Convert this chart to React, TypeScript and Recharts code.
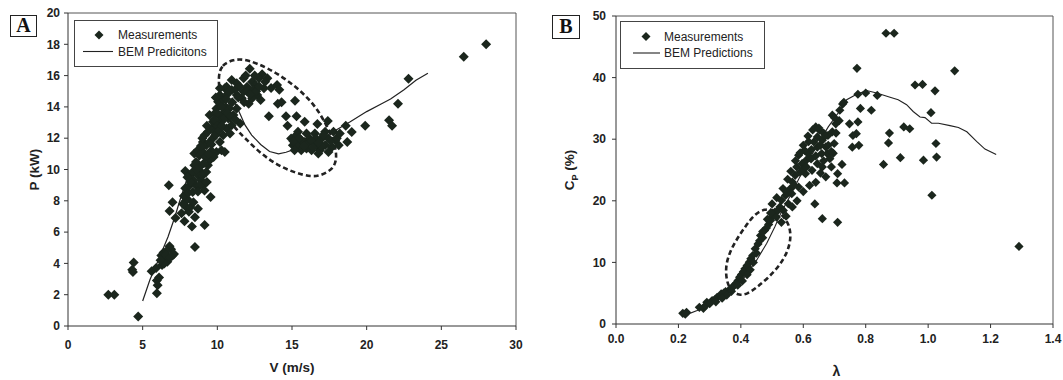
import React from "react";
import {
  ComposedChart,
  Scatter,
  Line,
  XAxis,
  YAxis,
  ReferenceLine,
  Legend,
} from "recharts";

// ---------------- DATA : panel A (power vs wind speed) ----------------
const ticksAX = [0, 5, 10, 15, 20, 25, 30];
const ticksAY = [0, 2, 4, 6, 8, 10, 12, 14, 16, 18, 20];

const measA: [number, number][] = [
  [2.7, 2.0], [3.1, 2.0], [4.4, 4.05], [4.3, 3.6], [4.35, 3.45], [4.7, 0.6],
  [5.6, 3.5], [5.9, 3.7], [5.95, 2.9], [6.1, 3.1], [5.95, 2.1], [6.0, 2.6],
  [6.25, 4.5], [6.4, 4.7], [6.65, 4.1], [6.9, 4.9], [7.0, 4.5], [6.5, 4.3],
  [6.3, 3.9], [6.8, 5.1], [7.1, 4.6], [6.6, 4.8], [6.45, 4.0], [6.2, 4.2],
  [6.55, 4.55], [6.85, 4.4],
  [6.75, 9.0], [6.8, 7.35], [7.0, 7.9], [7.2, 6.9], [7.8, 6.7], [7.85, 8.8],
  [7.85, 9.9], [7.9, 8.0], [8.0, 8.1], [7.9, 7.6], [8.1, 7.3], [8.3, 6.35],
  [8.5, 5.05], [8.5, 6.95], [8.7, 7.5], [9.15, 6.45], [9.55, 8.25], [7.6, 7.2],
  [7.7, 7.8], [8.2, 7.6], [8.4, 7.9], [7.75, 8.3], [8.05, 8.5],
  [8.12, 8.98], [8.35, 8.56], [8.57, 8.98], [8.92, 9.84], [8.46, 11.02],
  [8.69, 11.23], [9.03, 11.76], [8.8, 10.16], [8.12, 9.63], [8.35, 9.84],
  [8.46, 10.27], [8.57, 10.48], [8.8, 10.9], [8.69, 9.63], [8.92, 9.3],
  [9.03, 8.98], [9.14, 8.66], [8.8, 8.98], [9.26, 9.84], [9.37, 10.27],
  [9.03, 11.12], [9.26, 11.55], [9.48, 11.76], [9.14, 12.19], [9.37, 12.41],
  [9.6, 12.62], [9.71, 13.05], [9.48, 13.48], [9.82, 13.58], [9.94, 13.9],
  [10.05, 14.33], [10.17, 14.76], [9.94, 11.12], [10.28, 11.23], [10.5, 11.12],
  [10.17, 11.76], [10.39, 12.19], [10.62, 12.62], [10.85, 12.3], [10.96, 12.83],
  [10.73, 13.26], [10.39, 13.58], [10.28, 13.05], [11.08, 13.48], [11.3, 13.9],
  [11.53, 12.94], [10.39, 14.44], [10.62, 14.76], [10.5, 15.19], [10.96, 15.08],
  [11.3, 14.76], [11.64, 14.55], [11.76, 14.97], [11.99, 15.29], [12.33, 15.61],
  [12.17, 16.43], [12.55, 15.4], [12.67, 14.76], [12.9, 14.44], [12.33, 14.55],
  [13.12, 15.19], [13.0, 16.09], [13.35, 15.83], [12.78, 15.83], [11.76, 15.83],
  [11.3, 15.51], [10.96, 15.72], [10.62, 15.29], [10.17, 15.19], [9.7, 12.0],
  [9.85, 12.4], [9.6, 11.2], [9.75, 10.8], [9.5, 10.6], [10.0, 12.8], [10.2, 13.4],
  [10.55, 14.0], [10.8, 13.9], [11.0, 14.3], [11.2, 15.1], [11.5, 15.3],
  [12.0, 15.0], [12.4, 15.1], [12.1, 14.2], [12.6, 15.0], [11.9, 16.0],
  [9.2, 10.8], [9.4, 11.0], [9.6, 11.6], [9.9, 12.2], [10.1, 12.5], [10.3, 12.8],
  [10.5, 13.3], [10.7, 13.6], [10.9, 13.4], [11.2, 13.2], [10.0, 13.6],
  [10.3, 14.0], [10.6, 14.5], [10.8, 15.0], [11.4, 14.6], [11.8, 14.3],
  [12.2, 14.8], [12.5, 16.0], [12.8, 15.3], [13.2, 15.6], [9.9, 14.6],
  [9.8, 13.2], [9.3, 12.8], [9.0, 12.0], [8.9, 11.5], [8.6, 10.0], [8.4, 9.3],
  [8.7, 8.6], [9.0, 9.6], [9.3, 9.2], [9.1, 10.4], [8.2, 9.2], [8.0, 9.5],
  [13.6, 15.2], [14.0, 15.4], [14.15, 15.1], [14.3, 14.3], [14.05, 14.2],
  [13.45, 13.4], [14.6, 13.4], [14.7, 12.8], [15.2, 14.4], [15.3, 13.4],
  [15.85, 13.05], [17.4, 13.1], [16.7, 12.9],
  [14.94, 11.98], [15.06, 11.55], [15.28, 12.19], [15.4, 11.55], [15.62, 11.23],
  [15.85, 11.76], [15.97, 11.34], [16.19, 11.98], [16.31, 11.23], [16.65, 11.55],
  [16.88, 11.23], [16.99, 11.98], [17.22, 11.55], [17.44, 11.98], [17.67, 11.44],
  [17.9, 11.87], [18.13, 11.55], [16.53, 12.3], [15.97, 12.3], [15.4, 12.41],
  [17.22, 12.41], [17.78, 12.41], [15.17, 11.23], [16.76, 11.02], [17.44, 11.12],
  [16.1, 11.7], [16.6, 12.0], [17.0, 11.5], [15.6, 11.9], [15.1, 11.8],
  [15.5, 12.0], [15.8, 11.5], [16.3, 11.8], [16.8, 11.7], [17.1, 12.2],
  [17.6, 11.8], [18.0, 12.0], [16.4, 11.4],
  [18.6, 12.8], [19.0, 12.4], [18.7, 11.75], [18.2, 12.3], [19.9, 12.8],
  [21.5, 13.15], [21.7, 12.8], [22.1, 14.2], [22.8, 15.8], [26.5, 17.2], [28.0, 18.0],
];

const bemA: [number, number][] = [
  [5.0, 1.6], [5.48, 2.94], [6.15, 4.43], [6.7, 5.7], [7.16, 6.98], [7.5, 8.05],
  [7.95, 9.33], [8.5, 10.3], [9.0, 11.1], [9.5, 12.0], [10.0, 13.0], [10.5, 13.9],
  [10.9, 14.4], [11.15, 14.3], [11.45, 13.7], [11.85, 12.85], [12.3, 12.2],
  [12.9, 11.6], [13.5, 11.15], [14.1, 11.0], [14.6, 11.1], [15.5, 11.4],
  [16.5, 11.7], [17.3, 12.0], [17.9, 12.5], [18.9, 13.05], [20.0, 13.7],
  [21.0, 14.2], [21.6, 14.5], [22.5, 15.1], [23.3, 15.7], [24.1, 16.15],
];

const ellipseA: [number, number][] = [
  [10.05, 15.94], [10.28, 16.68], [11.08, 17.03], [11.76, 17.05], [12.67, 16.79],
  [14.03, 16.15], [15.4, 15.19], [16.53, 14.12], [17.33, 12.83], [17.9, 11.55],
  [18.0, 10.7], [17.78, 10.05], [16.99, 9.63], [16.3, 9.52], [15.17, 9.8],
  [14.03, 10.27], [12.9, 11.02], [11.76, 12.09], [11.08, 12.73], [10.5, 13.69],
  [10.17, 14.76],
];

// ---------------- DATA : panel B (Cp vs tip speed ratio) ----------------
const ticksBX = [0, 0.2, 0.4, 0.6, 0.8, 1.0, 1.2, 1.4];
const ticksBY = [0, 10, 20, 30, 40, 50];

const measB: [number, number][] = [
  [0.865, 47.2], [0.891, 47.2], [0.772, 41.5], [1.085, 41.1], [0.958, 38.8],
  [0.982, 38.9], [1.022, 37.85], [0.775, 37.3], [0.8, 37.5], [0.837, 37.1],
  [0.726, 35.7], [0.783, 35.0], [0.818, 34.7], [1.009, 34.3], [0.693, 33.9],
  [0.748, 32.5], [0.775, 32.8], [0.77, 30.9], [0.759, 30.6], [0.757, 28.7],
  [0.778, 29.0], [0.876, 31.0], [0.873, 29.4], [0.922, 32.0], [0.941, 31.7],
  [1.025, 29.3], [0.911, 27.0], [0.985, 26.6], [1.027, 27.1], [0.857, 25.9],
  [1.012, 20.9], [1.291, 12.6], [0.724, 25.9], [0.71, 24.4], [0.708, 22.9],
  [0.732, 22.9], [0.637, 19.5], [0.661, 17.1], [0.71, 16.5],
  [0.214, 1.74], [0.226, 1.9], [0.267, 2.7], [0.28, 2.55], [0.291, 3.52],
  [0.308, 3.8], [0.324, 4.34], [0.337, 4.88], [0.351, 5.26], [0.365, 5.64],
  [0.378, 6.24], [0.391, 7.05], [0.402, 8.03], [0.413, 8.95], [0.427, 10.03],
  [0.438, 11.12], [0.446, 12.2], [0.463, 14.37], [0.476, 15.18], [0.489, 16.16],
  [0.5, 17.35], [0.509, 18.17], [0.525, 18.98], [0.53, 20.07], [0.543, 20.88],
  [0.558, 21.96], [0.565, 23.05], [0.574, 24.13], [0.59, 24.67], [0.596, 26.03],
  [0.609, 26.57], [0.615, 27.66], [0.626, 28.31], [0.634, 29.56], [0.645, 30.37],
  [0.652, 31.45], [0.661, 29.83], [0.672, 28.74], [0.677, 27.66], [0.685, 26.84],
  [0.659, 27.66], [0.645, 26.03], [0.628, 24.95], [0.607, 24.4], [0.585, 22.23],
  [0.563, 21.15], [0.552, 19.52], [0.536, 18.44], [0.514, 17.35], [0.693, 31.2],
  [0.704, 32.5], [0.717, 34.7], [0.699, 29.3], [0.679, 30.6], [0.617, 29.6],
  [0.604, 28.2], [0.585, 27.4], [0.579, 25.5], [0.645, 28.7], [0.661, 25.5],
  [0.672, 23.9], [0.696, 27.7], [0.222, 1.6], [0.285, 2.9], [0.3, 3.3],
  [0.318, 4.0], [0.345, 5.0], [0.372, 5.9], [0.385, 6.6], [0.396, 7.6],
  [0.408, 8.5], [0.42, 9.5], [0.432, 10.6], [0.455, 13.0], [0.47, 14.0],
  [0.482, 15.6], [0.495, 16.8], [0.52, 18.5], [0.548, 21.3], [0.57, 22.5],
  [0.6, 25.2], [0.62, 27.0], [0.64, 27.3], [0.655, 29.0], [0.665, 31.0],
  [0.5, 19.5], [0.515, 20.5], [0.535, 22.0], [0.55, 23.5], [0.56, 24.8],
  [0.575, 26.5], [0.59, 27.8], [0.6, 29.0], [0.615, 30.5], [0.63, 31.5],
  [0.64, 32.0], [0.65, 31.8], [0.67, 30.5], [0.68, 29.0], [0.69, 28.0],
  [0.665, 26.5], [0.655, 24.5], [0.64, 23.0], [0.62, 22.5], [0.6, 21.5],
  [0.58, 20.0], [0.565, 19.0], [0.545, 17.5], [0.53, 16.5], [0.495, 18.0],
  [0.485, 17.0], [0.47, 15.0], [0.46, 13.5], [0.45, 11.5], [0.44, 10.0],
  [0.43, 8.8], [0.42, 8.0], [0.405, 7.0], [0.39, 6.3], [0.37, 5.3],
  [0.355, 4.7], [0.34, 4.2], [0.32, 3.6], [0.61, 25.5], [0.625, 26.8],
  [0.705, 31.0], [0.715, 33.0], [0.7, 33.5], [0.73, 36.0], [0.69, 25.5],
];

const bemB: [number, number][] = [
  [0.22, 1.4], [0.26, 2.2], [0.3, 3.2], [0.34, 4.4], [0.38, 5.9], [0.41, 7.5],
  [0.424, 8.5], [0.451, 10.4], [0.483, 13.1], [0.509, 15.8], [0.53, 18.2],
  [0.56, 21.0], [0.6, 25.0], [0.64, 28.6], [0.68, 32.0], [0.718, 34.7],
  [0.739, 36.4], [0.771, 37.3], [0.803, 37.9], [0.835, 37.5], [0.878, 36.8],
  [0.904, 36.4], [0.931, 35.6], [0.952, 34.5], [0.974, 33.6], [0.99, 33.5],
  [1.011, 32.6], [1.033, 32.6], [1.07, 32.2], [1.097, 31.9], [1.124, 31.2],
  [1.156, 29.6], [1.182, 28.4], [1.218, 27.5],
];

const ellipseB: [number, number][] = [
  [0.476, 18.71], [0.509, 18.55], [0.539, 17.46], [0.558, 15.73], [0.56, 13.56],
  [0.547, 11.39], [0.52, 9.22], [0.487, 7.48], [0.452, 5.97], [0.422, 4.88],
  [0.395, 4.61], [0.367, 5.42], [0.354, 7.05], [0.351, 9.22], [0.362, 11.39],
  [0.384, 13.56], [0.413, 15.73], [0.443, 17.79],
];

// ---------------- helpers ----------------
const toXY = (arr: [number, number][]) => arr.map(([x, y]) => ({ x, y }));

const FONT = '"Liberation Sans", Arial, Helvetica, sans-serif';
const MARK = "#1b261d";
const INK = "#222";
const AXIS = "#333";

const makeDiamond = (r: number) => (props: any) => {
  const { cx, cy } = props;
  if (cx == null || cy == null) return <g />;
  return (
    <polygon
      points={`${cx},${cy - r} ${cx + r},${cy} ${cx},${cy + r} ${cx - r},${cy}`}
      fill={MARK}
    />
  );
};

const tickStyle = { fill: INK, fontSize: 12, fontWeight: 700, fontFamily: FONT };

function LegendBox(props: {
  w: number;
  h: number;
  second: string;
  dx: number;
  l1: number;
  l2: number;
  tx: number;
  y1: number;
  y2: number;
}) {
  const { w, h, second, dx, l1, l2, tx, y1, y2 } = props;
  return (
    <div
      style={{
        width: w,
        height: h,
        border: "1px solid #444",
        boxSizing: "border-box",
        background: "#fff",
      }}
    >
      <svg width={w - 2} height={h - 2} style={{ display: "block" }}>
        <polygon
          points={`${dx},${y1 - 4.5} ${dx + 4.5},${y1} ${dx},${y1 + 4.5} ${dx - 4.5},${y1}`}
          fill={MARK}
        />
        <line x1={l1} x2={l2} y1={y2} y2={y2} stroke={INK} strokeWidth={1.1} />
        <text x={tx} y={y1 + 4.3} fontSize={12} fontFamily={FONT} fill={INK}>
          Measurements
        </text>
        <text x={tx} y={y2 + 4.3} fontSize={12} fontFamily={FONT} fill={INK}>
          {second}
        </text>
      </svg>
    </div>
  );
}

const panelLetter = (letter: string, left: number, top: number, w: number, h: number) => (
  <div
    style={{
      position: "absolute",
      left,
      top,
      width: w,
      height: h,
      border: "1.5px solid #222",
      boxSizing: "border-box",
      fontFamily: '"Liberation Serif", "Times New Roman", serif',
      fontWeight: 700,
      fontSize: 20,
      lineHeight: `${h - 3}px`,
      textAlign: "center",
      color: "#111",
      background: "#fff",
    }}
  >
    {letter}
  </div>
);

// ---------------- chart A ----------------
function ChartA() {
  const W = 530;
  const H = 380;
  const m = { top: 13, right: 14, bottom: 0, left: 0 };
  const yW = 68;
  const xH = 54;
  const plotCx = (yW + W - m.right) / 2;
  const plotCy = (m.top + H - xH) / 2;
  return (
    <ComposedChart width={W} height={H} margin={m}>
      <XAxis
        type="number"
        dataKey="x"
        domain={[0, 30]}
        ticks={ticksAX}
        height={xH}
        tickSize={4}
        tickMargin={10}
        allowDataOverflow
        axisLine={{ stroke: AXIS }}
        tickLine={{ stroke: AXIS }}
        tick={tickStyle}
        label={{
          content: () => (
            <text
              x={plotCx}
              y={372}
              textAnchor="middle"
              fontSize={13.5}
              fontWeight={700}
              fontFamily={FONT}
              fill={INK}
            >
              V (m/s)
            </text>
          ),
        }}
      />
      <YAxis
        type="number"
        dataKey="y"
        domain={[0, 20]}
        ticks={ticksAY}
        width={yW}
        tickSize={4}
        tickMargin={4}
        allowDataOverflow
        axisLine={{ stroke: AXIS }}
        tickLine={{ stroke: AXIS }}
        tick={tickStyle}
        label={{
          content: () => (
            <text
              x={34}
              y={plotCy}
              dy="0.35em"
              transform={`rotate(-90 34 ${plotCy})`}
              textAnchor="middle"
              fontSize={13.5}
              fontWeight={700}
              fontFamily={FONT}
              fill={INK}
            >
              P (kW)
            </text>
          ),
        }}
      />
      <ReferenceLine y={20} stroke="#555" strokeWidth={1} />
      <ReferenceLine x={30} stroke="#555" strokeWidth={1} />
      <Scatter
        name="Measurements"
        data={toXY(measA)}
        dataKey="y"
        fill={MARK}
        shape={makeDiamond(5)}
        isAnimationActive={false}
      />
      <Line
        name="BEM Predicitons"
        data={toXY(bemA)}
        dataKey="y"
        type="linear"
        stroke={INK}
        strokeWidth={1.2}
        dot={false}
        activeDot={false}
        isAnimationActive={false}
      />
      <Line
        data={toXY(ellipseA)}
        dataKey="y"
        type="basisClosed"
        stroke={INK}
        strokeWidth={2.6}
        strokeDasharray="5 3"
        dot={false}
        activeDot={false}
        legendType="none"
        isAnimationActive={false}
      />
      <Legend
        layout="horizontal"
        verticalAlign="middle"
        align="center"
        wrapperStyle={{ position: "absolute", left: 74, top: 20, width: 144, height: 47 }}
        content={() => (
          <LegendBox w={144} h={47} second="BEM Predicitons" dx={24} l1={8} l2={38} tx={43} y1={14} y2={30.5} />
        )}
      />
    </ComposedChart>
  );
}

// ---------------- chart B ----------------
function ChartB() {
  const W = 533;
  const H = 380;
  const m = { top: 16, right: 10, bottom: 0, left: 0 };
  const yW = 86;
  const xH = 56;
  const plotCx = (yW + W - m.right) / 2;
  const plotCy = (m.top + H - xH) / 2;
  return (
    <ComposedChart width={W} height={H} margin={m}>
      <XAxis
        type="number"
        dataKey="x"
        domain={[0, 1.4]}
        ticks={ticksBX}
        height={xH}
        tickSize={4}
        tickMargin={6}
        allowDataOverflow
        axisLine={{ stroke: AXIS }}
        tickLine={{ stroke: AXIS }}
        tick={tickStyle}
        tickFormatter={(v: number) => v.toFixed(1)}
        label={{
          content: () => (
            <text
              x={plotCx + 2}
              y={376}
              textAnchor="middle"
              fontSize={14}
              fontWeight={700}
              fontFamily={FONT}
              fill={INK}
            >
              λ
            </text>
          ),
        }}
      />
      <YAxis
        type="number"
        dataKey="y"
        domain={[0, 50]}
        ticks={ticksBY}
        width={yW}
        tickSize={4}
        tickMargin={6}
        allowDataOverflow
        axisLine={{ stroke: AXIS }}
        tickLine={{ stroke: AXIS }}
        tick={tickStyle}
        label={{
          content: () => (
            <text
              x={39}
              y={plotCy}
              dy="0.35em"
              transform={`rotate(-90 39 ${plotCy})`}
              textAnchor="middle"
              fontSize={13.5}
              fontWeight={700}
              fontFamily={FONT}
              fill={INK}
            >
              <tspan>C</tspan>
              <tspan dy={4} fontSize={9}>P</tspan>
              <tspan dy={-4}> (%)</tspan>
            </text>
          ),
        }}
      />
      <ReferenceLine y={50} stroke="#555" strokeWidth={1} />
      <ReferenceLine x={1.4} stroke="#555" strokeWidth={1} />
      <Scatter
        name="Measurements"
        data={toXY(measB)}
        dataKey="y"
        fill={MARK}
        shape={makeDiamond(4.6)}
        isAnimationActive={false}
      />
      <Line
        name="BEM Predictions"
        data={toXY(bemB)}
        dataKey="y"
        type="linear"
        stroke={INK}
        strokeWidth={1.1}
        dot={false}
        activeDot={false}
        isAnimationActive={false}
      />
      <Line
        data={toXY(ellipseB)}
        dataKey="y"
        type="basisClosed"
        stroke={INK}
        strokeWidth={2.6}
        strokeDasharray="5 3"
        dot={false}
        activeDot={false}
        legendType="none"
        isAnimationActive={false}
      />
      <Legend
        layout="horizontal"
        verticalAlign="middle"
        align="center"
        wrapperStyle={{ position: "absolute", left: 90, top: 21, width: 145, height: 48 }}
        content={() => (
          <LegendBox w={145} h={48} second="BEM Predictions" dx={25} l1={12} l2={39} tx={43} y1={14.5} y2={31} />
        )}
      />
    </ComposedChart>
  );
}

export default function App() {
  return (
    <div
      style={{
        position: "absolute",
        left: 0,
        top: 0,
        width: 1063,
        height: 380,
        background: "#fff",
        overflow: "hidden",
      }}
    >
      <div style={{ position: "absolute", left: 0, top: 0 }}>
        <ChartA />
      </div>
      <div style={{ position: "absolute", left: 530, top: 0 }}>
        <ChartB />
      </div>
      {panelLetter("A", 10, 15, 27, 22)}
      {panelLetter("B", 552, 15, 28, 24)}
    </div>
  );
}
